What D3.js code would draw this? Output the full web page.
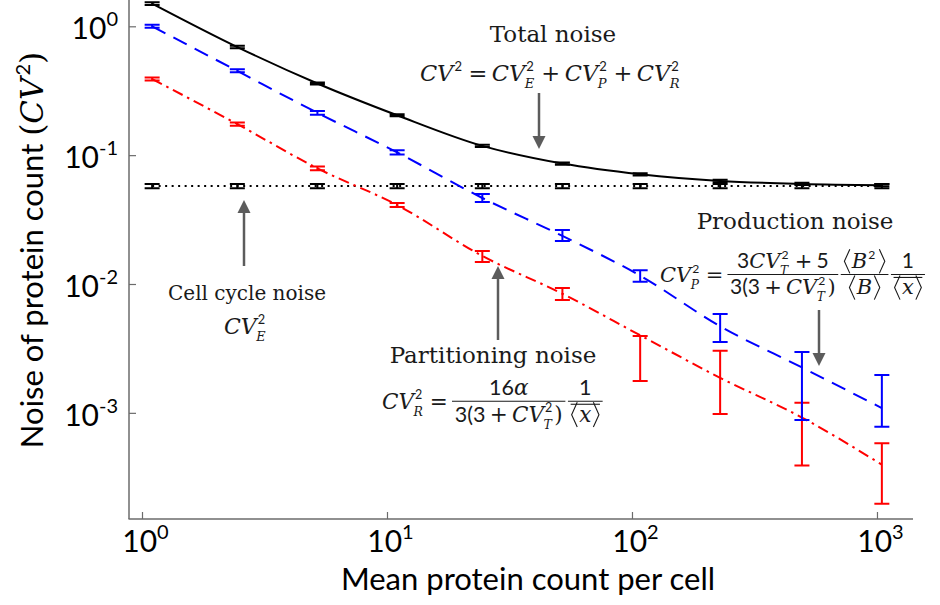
<!DOCTYPE html>
<html>
<head>
<meta charset="utf-8">
<script src="https://cdnjs.cloudflare.com/ajax/libs/d3/7.8.5/d3.min.js"></script>
<style>
  body { margin: 0; background: #fff; }
  svg { display: block; }
</style>
</head>
<body>
<svg id="chart" width="940" height="605"></svg>
<script>
// values (x = mean protein count, y = CV^2)
const meanCount = [1.1, 2.45, 5.2, 11, 24.5, 52, 108, 229, 494, 1047];

const totalNoise = [1.5, 0.69, 0.36, 0.204, 0.118, 0.086, 0.071, 0.063, 0.0598, 0.0585];
const totalHi    = [1.54, 0.705, 0.367, 0.208, 0.1205, 0.0877, 0.0724, 0.0643, 0.061, 0.0597];
const totalLo    = [1.46, 0.675, 0.353, 0.2, 0.1155, 0.0843, 0.0696, 0.0617, 0.0586, 0.0573];

const cellCycleNoise = [0.0575, 0.0575, 0.0575, 0.0575, 0.0575, 0.0575, 0.0575, 0.0575, 0.0575, 0.0575];
const cellCycleHi    = [0.0598, 0.0598, 0.0598, 0.0598, 0.0598, 0.0598, 0.0598, 0.0598, 0.0598, 0.0598];
const cellCycleLo    = [0.0553, 0.0553, 0.0553, 0.0553, 0.0553, 0.0553, 0.0553, 0.0553, 0.0553, 0.0553];

const productionNoise = [1.0, 0.45, 0.213, 0.105, 0.0465, 0.0236, 0.0116, 0.0047, 0.00225, 0.00109];
const productionHi    = [1.03, 0.465, 0.22, 0.109, 0.0499, 0.0262, 0.0128, 0.00585, 0.00297, 0.00197];
const productionLo    = [0.975, 0.44, 0.206, 0.101, 0.0432, 0.0216, 0.0104, 0.00355, 0.00088, 0.00078];

const partitionNoise = [0.39, 0.174, 0.079, 0.041, 0.0165, 0.0084, 0.004, 0.00187, 0.00092, 0.000396];
const partitionHi    = [0.40, 0.179, 0.0815, 0.0425, 0.018, 0.0093, 0.00395, 0.00303, 0.0012, 0.00058];
const partitionLo    = [0.38, 0.169, 0.0765, 0.0395, 0.0148, 0.0075, 0.00177, 0.00098, 0.00039, 0.000197];

const xTicks = [1, 10, 100, 1000];
const yTicks = [1, 0.1, 0.01, 0.001];
const xDomain = [0.885, 1403];
const yDomain = [1.5e-4, 1.6];

const SANS = "Lato, 'Open Sans', sans-serif";
const SERIF = "'DejaVu Serif', serif";
const INK = '#1a1a1a';
const ARROW = '#5c5c5c';

const svg = d3.select('#chart');
const frame = { left: 129, right: 913, top: 0, bottom: 519 };

const xs = d3.scaleLog().domain(xDomain).range([frame.left, frame.right]);
const ys = d3.scaleLog().domain(yDomain).range([frame.bottom, frame.top]);

// --- axes ---
function powLabels(sel, anchor) {
  sel.selectAll('.tick text').each(function (d) {
    const e = Math.round(Math.log10(d));
    const t = d3.select(this).text(null).attr('text-anchor', anchor).attr('fill', '#000');
    t.append('tspan').text('10');
    t.append('tspan').attr('dy', -13).attr('font-size', 20).text(e);
  });
}

const gx = svg.append('g')
  .attr('transform', `translate(0,${frame.bottom})`)
  .call(d3.axisBottom(xs).tickValues(xTicks).tickSizeInner(-7).tickSizeOuter(0).tickPadding(12));
gx.attr('font-family', SANS).attr('font-size', 30);
gx.selectAll('.tick text').attr('dy', '0.71em').attr('dx', 3);
powLabels(gx, 'middle');

const gy = svg.append('g')
  .attr('transform', `translate(${frame.left},0)`)
  .call(d3.axisLeft(ys).tickValues(yTicks).tickSizeInner(-7).tickSizeOuter(0).tickPadding(11));
gy.attr('font-family', SANS).attr('font-size', 30);
gy.selectAll('.tick text').attr('dy', '0.42em');
powLabels(gy, 'end');

[gx, gy].forEach(g => {
  g.select('.domain').attr('stroke', '#6b6b6b').attr('stroke-width', 1.5);
  g.selectAll('.tick line').attr('stroke', '#6b6b6b').attr('stroke-width', 1.2);
});
// stretch the axis lines to the plot frame
gx.select('.domain').attr('d', `M${frame.left - 0.5},0H${frame.right}`);
gy.select('.domain').attr('d', `M0,${frame.bottom}V${frame.top}`);

svg.append('text')
  .attr('x', (frame.left + frame.right) / 2 + 7).attr('y', 590)
  .attr('text-anchor', 'middle').attr('font-family', SANS).attr('font-size', 31)
  .text('Mean protein count per cell');

const ylab = svg.append('text')
  .attr('transform', 'translate(43,250) rotate(-90)')
  .attr('text-anchor', 'middle').attr('font-family', SANS).attr('font-size', 31);
ylab.append('tspan').text('Noise of protein count ');
ylab.append('tspan').attr('font-family', SERIF).text('(');
ylab.append('tspan').attr('font-family', SERIF).attr('font-style', 'italic').text('CV');
ylab.append('tspan').attr('dy', -13).attr('dx', 2).attr('font-size', 20).text('2');
ylab.append('tspan').attr('dy', 13).attr('font-family', SERIF).text(')');

// --- series ---
const series = [
  { line: cellCycleNoise, lo: cellCycleLo, hi: cellCycleHi, color: '#000', dash: '2,4.5', w: 2 },
  { line: partitionNoise, lo: partitionLo, hi: partitionHi, color: '#ff0000', dash: '11,5,2.5,5', w: 2 },
  { line: productionNoise, lo: productionLo, hi: productionHi, color: '#0000ff', dash: '15,9', w: 2 },
  { line: totalNoise, lo: totalLo, hi: totalHi, color: '#000', dash: null, w: 2 }
];

const line = d3.line()
  .x((d, i) => xs(meanCount[i]))
  .y(d => ys(d))
  .curve(d3.curveMonotoneX);

const plot = svg.append('g');
series.forEach(s => {
  plot.append('path')
    .attr('d', line(s.line))
    .attr('fill', 'none')
    .attr('stroke', s.color)
    .attr('stroke-width', s.w)
    .attr('stroke-dasharray', s.dash);

  const bars = plot.append('g').attr('stroke', s.color).attr('stroke-width', 2).attr('fill', 'none');
  meanCount.forEach((m, i) => {
    const x = xs(m), y1 = ys(s.hi[i]), y2 = ys(s.lo[i]);
    bars.append('path').attr('d',
      `M${x},${y1}V${y2}M${x - 7.5},${y1}H${x + 7.5}M${x - 7.5},${y2}H${x + 7.5}`);
  });
});

// --- annotations ---
const meas = svg.append('text').attr('visibility', 'hidden');
function tw(str, size, fam, it) {
  meas.attr('font-family', fam).attr('font-size', size).attr('font-style', it ? 'italic' : 'normal').text(str);
  return meas.node().getComputedTextLength();
}
function put(g, str, x, y, size, fam, it) {
  g.append('text').attr('x', x).attr('y', y)
    .attr('font-family', fam).attr('font-size', size)
    .attr('font-style', it ? 'italic' : 'normal').attr('fill', INK).text(str);
}
function rule(g, x1, x2, y) {
  g.append('line').attr('x1', x1).attr('x2', x2).attr('y1', y).attr('y2', y)
    .attr('stroke', INK).attr('stroke-width', 1.1);
}

// tiny typesetter: text runs, stacked scripts, fractions and angle brackets
function typeset(g, toks, x, y, fs) {
  let cx = x;
  toks.forEach(k => {
    if (k.frac) {
      const wn = typeset(null, k.frac[0], 0, 0, fs);
      const wd = typeset(null, k.frac[1], 0, 0, fs);
      const w = Math.max(wn, wd) + fs * 0.25;
      if (g) {
        const by = y - fs * 0.36;
        rule(g, cx, cx + w, by);
        if (k.over) rule(g, cx + (w - wd) / 2, cx + (w + wd) / 2, by + 3);
        typeset(g, k.frac[0], cx + (w - wn) / 2, by - fs * 0.3, fs);
        typeset(g, k.frac[1], cx + (w - wd) / 2, by + fs * 0.95, fs);
      }
      cx += w + fs * 0.12;
    } else if (k.ang) {
      const bw = fs * 0.26;
      const wi = typeset(null, k.ang, 0, 0, fs);
      if (g) {
        const top = y - fs * 0.9, bot = y + fs * 0.25, mid = (top + bot) / 2;
        const br = (x0, dir) => g.append('path')
          .attr('d', `M${x0 + dir * bw},${top}L${x0},${mid}L${x0 + dir * bw},${bot}`)
          .attr('fill', 'none').attr('stroke', INK).attr('stroke-width', 1.1);
        br(cx + 1, 1);
        typeset(g, k.ang, cx + bw + 3, y, fs);
        br(cx + bw + 6 + wi + bw - 1, -1);
      }
      cx += wi + 2 * bw + 6;
    } else if (k.sup !== undefined || k.sub !== undefined) {
      const ss = fs * 0.58;
      const wsup = k.sup ? tw(k.sup, ss, SANS, false) : 0;
      const wsub = k.sub ? tw(k.sub, ss, SERIF, true) : 0;
      if (g) {
        if (k.sup) put(g, k.sup, cx + 1, y - fs * 0.45, ss, SANS, false);
        if (k.sub) put(g, k.sub, cx - fs * 0.02, y + fs * 0.32, ss, SERIF, true);
      }
      cx += Math.max(wsup + 1, wsub) + 2;
    } else {
      const fam = k.sans ? SANS : SERIF;
      const pad = k.op ? fs * 0.2 : 0;
      const w = tw(k.t, fs, fam, k.i);
      if (g) put(g, k.t, cx + pad, y, fs, fam, k.i);
      cx += w + 2 * pad;
    }
  });
  return cx - x;
}
function formula(toks, x, y, fs, anchor) {
  const w = typeset(null, toks, 0, 0, fs);
  const x0 = anchor === 'middle' ? x - w / 2 : x;
  typeset(svg.append('g'), toks, x0, y, fs);
}
function label(str, x, y, fs) {
  svg.append('text').attr('x', x).attr('y', y).attr('text-anchor', 'middle')
    .attr('font-family', SERIF).attr('font-size', fs).attr('fill', INK).text(str);
}
function arrow(x, yFrom, yTo) {
  const dir = Math.sign(yTo - yFrom), hl = 13, hw = 6.5;
  svg.append('line').attr('x1', x).attr('x2', x).attr('y1', yFrom).attr('y2', yTo - dir * hl)
    .attr('stroke', ARROW).attr('stroke-width', 2.5);
  svg.append('path')
    .attr('d', `M${x},${yTo}L${x - hw},${yTo - dir * hl}L${x + hw},${yTo - dir * hl}Z`)
    .attr('fill', ARROW);
}

const CV = { t: 'CV', i: true };
const opPlus = { t: '+', op: true };
const opEq = { t: '=', op: true };
const avgX = { frac: [[{ t: '1', sans: true }], [{ ang: [{ t: 'x', i: true }] }]], over: true };
const denT = [{ t: '3(3', sans: true }, opPlus, CV, { sup: '2', sub: 'T' }, { t: ')' }];

// total noise
label('Total noise', 553, 42, 23);
formula([CV, { sup: '2' }, opEq, CV, { sup: '2', sub: 'E' }, opPlus, CV, { sup: '2', sub: 'P' }, opPlus, CV, { sup: '2', sub: 'R' }],
  551, 81, 22.5, 'middle');
arrow(539, 93, 149);

// cell cycle noise
arrow(244, 266, 200);
label('Cell cycle noise', 247, 300, 20);
formula([CV, { sup: '2', sub: 'E' }], 246, 334, 22, 'middle');

// partitioning noise
arrow(498, 340, 266);
label('Partitioning noise', 493, 363, 23);
formula([CV, { sup: '2', sub: 'R' }, opEq,
  { frac: [[{ t: '16', sans: true }, { t: 'α', i: true }], denT] }, avgX], 382, 409, 21.5, 'start');

// production noise
label('Production noise', 795, 229, 23);
formula([CV, { sup: '2', sub: 'P' }, opEq,
  { frac: [[{ t: '3', sans: true }, CV, { sup: '2', sub: 'T' }, opPlus, { t: '5', sans: true }], denT] },
  { frac: [[{ ang: [{ t: 'B', i: true }, { sup: '2' }] }], [{ ang: [{ t: 'B', i: true }] }]] },
  avgX], 660, 282, 21, 'start');
arrow(819, 310, 366);
</script>
</body>
</html>
